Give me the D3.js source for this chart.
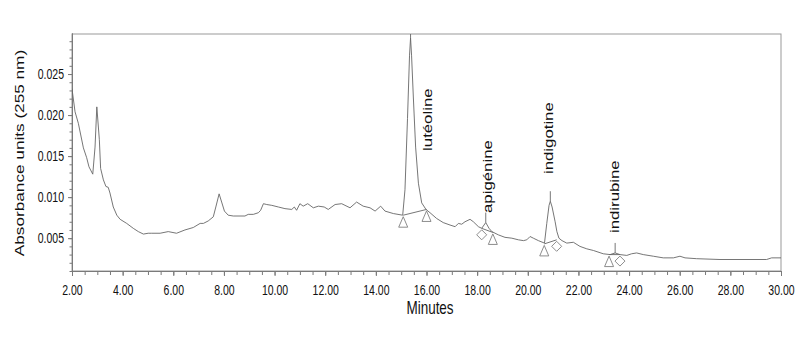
<!DOCTYPE html>
<html>
<head>
<meta charset="utf-8">
<script src="https://cdn.jsdelivr.net/npm/d3@7"></script>
<style>
  body { margin: 0; background: #fff; }
  svg { display: block; }
  text { font-family: "Liberation Sans", Arial, Helvetica, sans-serif; fill: #111; }
</style>
</head>
<body>
<svg id="chart" width="800" height="338"></svg>
<script>
// Chromatogram trace: retention time (min) and absorbance at 255 nm (AU)
const minutes = [
  2.00, 2.12, 2.25, 2.45, 2.58, 2.67, 2.82, 2.91, 2.98, 3.08, 3.13, 3.24, 3.34, 3.43, 3.50,
  3.63, 3.77, 3.90, 4.16, 4.42, 4.62, 4.82, 5.01, 5.15, 5.48, 5.80, 6.13, 6.46, 6.79, 7.06,
  7.19, 7.38, 7.58, 7.68, 7.81, 7.91, 8.02, 8.17, 8.37, 8.83, 8.96, 9.16, 9.36, 9.45, 9.56,
  9.69, 9.89, 10.15, 10.41, 10.68, 10.78, 10.87, 11.00, 11.13, 11.31, 11.53, 11.73, 11.96,
  12.12, 12.39, 12.65, 12.98, 13.24, 13.50, 13.77, 13.97, 14.19, 14.36, 14.69, 15.06, 15.15,
  15.25, 15.33, 15.37, 15.41, 15.48, 15.57, 15.68, 15.81, 15.98, 16.14, 16.40, 16.66, 16.93,
  17.13, 17.26, 17.39, 17.52, 17.72, 17.85, 18.05, 18.18, 18.34, 18.47, 18.58, 18.84, 19.10,
  19.37, 19.63, 19.83, 19.96, 20.09, 20.22, 20.42, 20.66, 20.75, 20.84, 20.89, 20.96, 21.08,
  21.15, 21.23, 21.35, 21.54, 21.80, 22.06, 22.33, 22.59, 22.98, 23.25, 23.45, 23.64, 23.91,
  24.10, 24.30, 24.56, 24.96, 25.35, 25.75, 26.01, 26.21, 26.67, 27.59, 29.43, 29.63, 30.00
];
const absorbance = [
  0.0232, 0.0204, 0.0190, 0.0160, 0.0148, 0.0137, 0.0128, 0.0161, 0.0210, 0.0170, 0.0135, 0.0121, 0.0113, 0.0112, 0.0105,
  0.0088, 0.0078, 0.0073, 0.0068, 0.0062, 0.0058, 0.0055, 0.0056, 0.0056, 0.0056, 0.0058, 0.0056, 0.0060, 0.0063, 0.0068,
  0.0068, 0.0071, 0.0076, 0.0088, 0.0104, 0.0094, 0.0083, 0.0078, 0.0077, 0.0077, 0.0079, 0.0079, 0.0081, 0.0084, 0.0092,
  0.0091, 0.0090, 0.0088, 0.0086, 0.0085, 0.0088, 0.0084, 0.0092, 0.0089, 0.0092, 0.0087, 0.0089, 0.0088,
  0.0085, 0.0091, 0.0092, 0.0087, 0.0094, 0.0089, 0.0087, 0.0083, 0.0089, 0.0083, 0.0080, 0.0078, 0.0109,
  0.0196, 0.0273, 0.0294, 0.0273, 0.0222, 0.0161, 0.0117, 0.0093, 0.0085, 0.0081, 0.0074, 0.0069, 0.0066,
  0.0064, 0.0068, 0.0067, 0.0070, 0.0073, 0.0070, 0.0064, 0.0062, 0.0069, 0.0062, 0.0058, 0.0054, 0.0051,
  0.0050, 0.0048, 0.0047, 0.0048, 0.0052, 0.0050, 0.0047, 0.0044, 0.0068, 0.0090, 0.0095, 0.0088, 0.0070,
  0.0058, 0.0050, 0.0047, 0.0044, 0.0045, 0.0040, 0.0037, 0.0035, 0.0031, 0.0030, 0.0032, 0.0030, 0.0029,
  0.0031, 0.0032, 0.0030, 0.0028, 0.0026, 0.0026, 0.0028, 0.0026, 0.0025, 0.0024, 0.0024, 0.0026, 0.0026
];

// Axis ticks
const xMajorTicks = [2, 4, 6, 8, 10, 12, 14, 16, 18, 20, 22, 24, 26, 28, 30];
const yMajorTicks = [0.005, 0.010, 0.015, 0.020, 0.025];

// Integrated peaks
const peakNames = ["lutéoline", "apigénine", "indigotine", "indirubine"];
const peakApex = [15.37, 18.34, 20.89, 23.45];
const peakStart = [15.08, 18.18, 20.65, 23.21];
const peakStartValue = [0.0078, 0.0062, 0.0043, 0.0030];
const peakEnd = [16.00, 18.62, 21.14, 23.64];
const peakEndValue = [0.0085, 0.0057, 0.0048, 0.0030];
const peakStartMark = ["triangle", "diamond", "triangle", "triangle"];
const peakEndMark = ["triangle", "triangle", "diamond", "diamond"];

// ---- layout ----
const svg = d3.select("#chart");
const plot = { left: 72, right: 781, top: 33, bottom: 271 };
const squeeze = 0.75;           // condensed lettering
const axisColor = "#7a7a7a";
const traceColor = "#666";

const x = d3.scaleLinear().domain([2, 30]).range([plot.left, plot.right]);
const y = d3.scaleLinear().domain([0.001, 0.030]).range([plot.bottom, plot.top]);

// frame (top and right edges)
svg.append("rect")
  .attr("x", plot.left).attr("y", plot.top + 1)
  .attr("width", plot.right - plot.left).attr("height", plot.bottom - plot.top - 1)
  .attr("fill", "none").attr("stroke", "#999").attr("stroke-width", 1);

// x axis: minor ticks every 0.5 min, labelled ticks every 2 min
const xMinor = d3.range(2, 30.01, 0.5);
svg.append("g")
  .attr("transform", `translate(0,${plot.bottom})`)
  .call(d3.axisBottom(x).tickValues(xMinor).tickSize(4).tickSizeOuter(0).tickFormat(""))
  .call(g => g.selectAll("line,path").attr("stroke", axisColor));

const gx = svg.append("g")
  .attr("transform", `translate(0,${plot.bottom})`)
  .call(d3.axisBottom(x).tickValues(xMajorTicks).tickSize(5).tickSizeOuter(0)
    .tickPadding(9).tickFormat(d3.format(".2f")));
gx.selectAll("line,path").attr("stroke", axisColor);
gx.selectAll("text")
  .attr("font-size", 14)
  .attr("font-family", null)
  .attr("fill", "#111")
  .attr("transform", `scale(${squeeze},1)`);

// y axis: minor ticks every 0.001 AU
const yMinor = d3.range(1, 30).map(k => k / 1000);
svg.append("g")
  .attr("transform", `translate(${plot.left},0)`)
  .call(d3.axisLeft(y).tickValues(yMinor).tickSize(2.5).tickSizeOuter(0).tickFormat(""))
  .call(g => g.selectAll("line,path").attr("stroke", axisColor));

const gy = svg.append("g")
  .attr("transform", `translate(${plot.left},0)`)
  .call(d3.axisLeft(y).tickValues(yMajorTicks).tickSize(4).tickSizeOuter(0)
    .tickFormat(d3.format(".3f")));
gy.selectAll("line,path").attr("stroke", axisColor);
gy.selectAll("text")
  .attr("font-size", 14)
  .attr("font-family", null)
  .attr("fill", "#111")
  .attr("x", -8 / squeeze)
  .attr("transform", `scale(${squeeze},1)`);

// axis titles
svg.append("text")
  .attr("transform", `translate(24,153) scale(${squeeze},1) rotate(-90)`)
  .attr("text-anchor", "middle")
  .attr("font-size", 17.2)
  .text("Absorbance units (255 nm)");

svg.append("text")
  .attr("transform", `translate(430,314) scale(${squeeze},1)`)
  .attr("text-anchor", "middle")
  .attr("font-size", 18)
  .text("Minutes");

// ---- trace ----
svg.append("clipPath").attr("id", "plotClip")
  .append("rect")
  .attr("x", plot.left).attr("y", plot.top + 1)
  .attr("width", plot.right - plot.left).attr("height", plot.bottom - plot.top);

const points = minutes.map((t, i) => [t, absorbance[i]]);
const line = d3.line().x(d => x(d[0])).y(d => y(d[1]));

const traceLayer = svg.append("g").attr("clip-path", "url(#plotClip)");
traceLayer.append("path")
  .datum(points)
  .attr("d", line)
  .attr("fill", "none")
  .attr("stroke", traceColor)
  .attr("stroke-width", 0.9)
  .attr("stroke-linejoin", "round");

// ---- peak integration marks ----
const apexValue = t => absorbance[minutes.indexOf(t)];

function marker(g, kind, px, py) {
  const top = py + 1.5;
  const p = kind === "triangle"
    ? `M${px},${top}L${px - 4.5},${top + 10.5}L${px + 4.5},${top + 10.5}Z`
    : `M${px},${top}L${px + 5},${top + 5}L${px},${top + 10}L${px - 5},${top + 5}Z`;
  g.append("path").attr("d", p)
    .attr("fill", "none").attr("stroke", "#808080").attr("stroke-width", 0.9);
}

// label placement relative to each apex (pixels)
const labelOffset = {
  "lutéoline": { dx: 21.5, dy: 113 },
  "apigénine": { dx: 5.8, dy: -9.6 },
  "indigotine": { dx: 2.8, dy: -27.2 },
  "indirubine": { dx: 3.9, dy: -19.9 }
};

const marks = svg.append("g");
peakNames.forEach((name, i) => {
  const sx = x(peakStart[i]), sy = y(peakStartValue[i]);
  const ex = x(peakEnd[i]), ey = y(peakEndValue[i]);
  const ax = x(peakApex[i]), ay = y(apexValue(peakApex[i]));

  // baseline between integration limits
  marks.append("line")
    .attr("x1", sx).attr("y1", sy).attr("x2", ex).attr("y2", ey)
    .attr("stroke", traceColor).attr("stroke-width", 0.9);

  // apex tick
  traceLayer.append("line")
    .attr("x1", ax).attr("y1", ay).attr("x2", ax).attr("y2", ay - 10)
    .attr("stroke", traceColor).attr("stroke-width", 0.9);

  marker(marks, peakStartMark[i], sx, sy);
  marker(marks, peakEndMark[i], ex, ey);

  const off = labelOffset[name];
  marks.append("text")
    .attr("transform", `translate(${ax + off.dx},${ay + off.dy}) scale(${squeeze},1) rotate(-90)`)
    .attr("text-anchor", "start")
    .attr("font-size", 16.8)
    .text(name);
});
</script>
</body>
</html>
